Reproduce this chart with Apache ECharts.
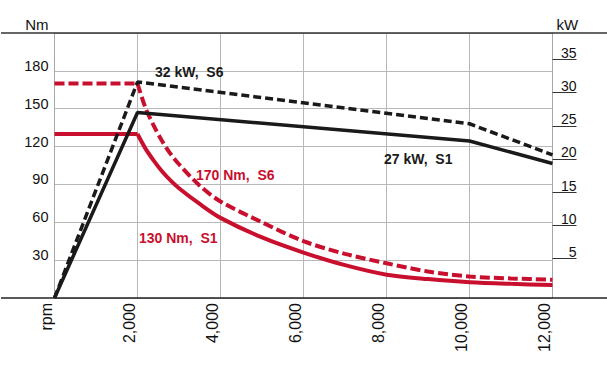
<!DOCTYPE html>
<html>
<head>
<meta charset="utf-8">
<script src="https://cdn.jsdelivr.net/npm/echarts@6/dist/echarts.min.js"></script>
<style>
html,body{margin:0;padding:0;background:#fff;}
#chart{width:607px;height:370px;}
</style>
</head>
<body>
<div id="chart"></div>
<script>
// ---- data ----
const rpmTicks = [0, 2000, 4000, 6000, 8000, 10000, 12000];
const rpmTickLabels = ['rpm', '2,000', '4,000', '6,000', '8,000', '10,000', '12,000'];
const torqueTicks = [30, 60, 90, 120, 150, 180];
const powerTicks = [5, 10, 15, 20, 25, 30, 35];

const torqueRpm = [0, 2000, 2200, 2400, 2600, 2800, 3000, 3500, 4000, 5000, 6000, 7000, 8000, 9000, 10000, 11000, 12000];
const torqueS1 = [130, 130, 118, 108.5, 100, 93, 87, 74.5, 63.5, 48, 36, 26, 18.5, 15, 12.5, 11.2, 10.3];
const torqueS6 = [170, 170, 150, 136, 124, 114, 106, 89, 76.5, 60, 45, 35, 27.5, 21, 17, 15.5, 14.5];

const powerRpm = [0, 2000, 10000, 12000];
const powerS1 = [-1, 27, 22.7, 19.3];
const powerS6 = [-1, 31.6, 25.3, 20.6];

const labelTexts = ['32 kW,\u00a0 S6', '170 Nm,\u00a0 S6', '130 Nm,\u00a0 S1', '27 kW,\u00a0 S1'];

// ---- chart ----
const RED = '#c8102e';
const BLACK = '#1a1a1a';
const FONT = "'Liberation Sans', Arial, Helvetica, sans-serif";
const zip = (xs, ys) => xs.map((x, i) => [x, ys[i]]);
// constant-torque part (up to the corner) and field-weakening part (from the corner)
const flatPart = (xs, ys) => zip(xs, ys).slice(0, 2);
const curvePart = (xs, ys) => zip(xs, ys).slice(1);

const chart = echarts.init(document.getElementById('chart'), null, { renderer: 'svg' });
chart.setOption({
  animation: false,
  backgroundColor: '#fff',
  textStyle: { fontFamily: FONT },
  grid: { left: 54.5, right: 54.5, top: 33, bottom: 72, containLabel: false },
  xAxis: {
    type: 'value', min: 0, max: 12000, interval: 2000,
    axisLine: { show: false },
    axisTick: { show: false },
    splitLine: { show: true, lineStyle: { color: '#b8b8b8', width: 1 } },
    axisLabel: {
      rotate: 90, fontSize: 16, color: '#111', margin: 5, fontFamily: FONT,
      verticalAlign: 'bottom',
      formatter: (v) => { const i = rpmTicks.indexOf(v); return i >= 0 ? rpmTickLabels[i] : ''; }
    }
  },
  yAxis: [
    {
      type: 'value', min: 0, max: 210, interval: 30, position: 'left',
      name: 'Nm', nameLocation: 'end', nameGap: 1,
      nameTextStyle: { fontSize: 15, color: '#111', align: 'right', verticalAlign: 'bottom', padding: [0, 6, 0, 0], fontFamily: FONT },
      axisLine: { show: true, lineStyle: { color: '#a8a8a8', width: 1 } },
      axisTick: { show: false },
      splitLine: { show: true, lineStyle: { color: '#b8b8b8', width: 1 } },
      axisLabel: {
        customValues: torqueTicks, fontSize: 14.5, color: '#111', margin: 6, fontFamily: FONT,
        verticalAlign: 'bottom', lineHeight: 10
      }
    },
    {
      type: 'value', min: -1, max: 39, position: 'right',
      name: 'kW', nameLocation: 'end', nameGap: 1,
      nameTextStyle: { fontSize: 15, color: '#111', align: 'left', verticalAlign: 'bottom', padding: [0, 0, 0, 4], fontFamily: FONT },
      axisLine: { show: true, lineStyle: { color: '#a8a8a8', width: 1 } },
      axisTick: { show: true, customValues: powerTicks, inside: false, length: 24, lineStyle: { color: '#333', width: 1 } },
      splitLine: { show: false },
      axisLabel: {
        customValues: powerTicks, fontSize: 14, color: '#111', margin: 24, align: 'right',
        verticalAlign: 'bottom', lineHeight: 13, fontFamily: FONT
      }
    }
  ],
  series: [
    { type: 'line', name: 'Torque S6', yAxisIndex: 0, data: flatPart(torqueRpm, torqueS6), symbol: 'none',
      lineStyle: { color: RED, width: 4, type: [10, 4] }, z: 2 },
    { type: 'line', name: 'Torque S6', yAxisIndex: 0, data: curvePart(torqueRpm, torqueS6), symbol: 'none',
      smooth: 0.3,
      lineStyle: { color: RED, width: 4, type: [10, 4] }, z: 2 },
    { type: 'line', name: 'Torque S1', yAxisIndex: 0, data: flatPart(torqueRpm, torqueS1), symbol: 'none',
      lineStyle: { color: RED, width: 4 }, z: 2 },
    { type: 'line', name: 'Torque S1', yAxisIndex: 0, data: curvePart(torqueRpm, torqueS1), symbol: 'none',
      smooth: 0.3,
      lineStyle: { color: RED, width: 4 }, z: 2 },
    { type: 'line', name: 'Power S6', yAxisIndex: 1, data: zip(powerRpm, powerS6), symbol: 'none',
      lineStyle: { color: BLACK, width: 3.5, type: [8, 4] }, z: 3 },
    { type: 'line', name: 'Power S1', yAxisIndex: 1, data: zip(powerRpm, powerS1), symbol: 'none',
      lineStyle: { color: BLACK, width: 3.5 }, z: 3 }
  ],
  graphic: [
    { type: 'line', shape: { x1: 1, y1: 33, x2: 607, y2: 33 }, style: { stroke: '#333', lineWidth: 1.5 }, z: 10 },
    { type: 'line', shape: { x1: 1, y1: 298, x2: 607, y2: 298 }, style: { stroke: '#222', lineWidth: 1.5 }, z: 10 },
    { type: 'text', left: 155, top: 65, style: { text: labelTexts[0], fill: BLACK, font: "bold 14px " + FONT }, z: 11 },
    { type: 'text', left: 196, top: 168, style: { text: labelTexts[1], fill: RED, font: "bold 14px " + FONT }, z: 11 },
    { type: 'text', left: 139, top: 231, style: { text: labelTexts[2], fill: RED, font: "bold 14px " + FONT }, z: 11 },
    { type: 'text', left: 384, top: 152, style: { text: labelTexts[3], fill: BLACK, font: "bold 14px " + FONT }, z: 11 }
  ]
});
</script>
</body>
</html>
